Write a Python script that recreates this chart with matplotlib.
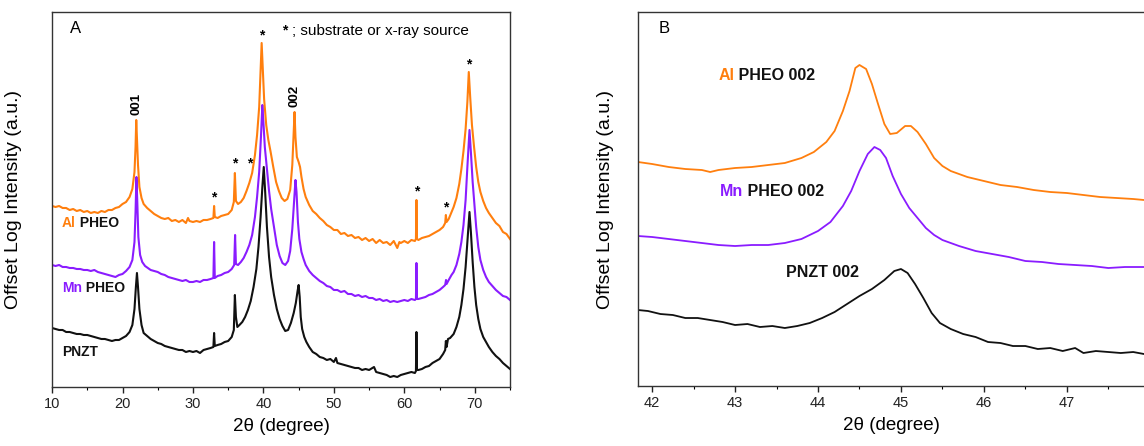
import matplotlib
matplotlib.use('Agg')
import matplotlib.pyplot as plt

plt.rcParams['font.family'] = ['Liberation Sans', 'DejaVu Sans']

# --- Panel A: full scans (2theta in degree, offset log intensity in a.u.) ---
al_x = [10, 10.5, 11, 11.5, 12, 12.5, 13, 13.5, 14, 14.5, 15, 15.5, 16, 16.5, 17, 17.5, 18, 18.5, 19, 19.5,
        20, 20.5, 21, 21.4, 21.7, 21.85, 21.95, 22.05, 22.2, 22.4, 22.7, 23, 23.5, 24, 24.5, 25, 25.5, 26,
        26.5, 27, 27.5, 28, 28.5, 29, 29.3, 29.5, 30, 30.5, 31, 31.5, 32, 32.5, 32.9, 33.0, 33.1, 33.5, 34,
        34.5, 35, 35.5, 35.8, 35.95, 36.1, 36.4, 36.8, 37.2, 37.6, 38, 38.4, 38.8, 39.1, 39.4, 39.6, 39.75,
        39.9, 40.1, 40.4, 40.7, 41, 41.4, 41.8, 42.2, 42.6, 43, 43.4, 43.8, 44.1, 44.3, 44.42, 44.55, 44.75,
        45.0, 45.2, 45.4, 45.7, 46, 46.5, 47, 47.5, 48, 48.5, 49, 49.5, 50, 50.5, 51, 51.5, 52, 52.5, 53,
        53.5, 54, 54.5, 55, 55.5, 56, 56.5, 57, 57.5, 58, 58.5, 59, 59.3, 59.5, 60, 60.5, 61, 61.5, 61.65,
        61.72, 61.8, 62, 62.5, 63, 63.5, 64, 64.5, 65, 65.5, 65.8, 65.9, 66.0, 66.3, 66.7, 67, 67.4, 67.8,
        68.1, 68.4, 68.7, 68.95, 69.15, 69.35, 69.6, 69.9, 70.2, 70.5, 70.8, 71.2, 71.6, 72, 72.5, 73, 73.5,
        74, 74.5, 75]
al_y = [181, 180, 181, 179, 179, 177, 178, 176, 177, 175, 176, 174, 175, 174, 176, 175, 177, 177, 179, 180,
        183, 185, 190, 198, 215, 240, 267, 250, 222, 200, 189, 183, 179, 176, 173, 171, 169, 168,
        169, 166, 167, 165, 167, 164, 169, 166, 165, 166, 165, 167, 167, 168, 169, 181, 170, 169, 171,
        172, 173, 177, 185, 214, 186, 183, 185, 189, 196, 204, 214, 232, 252, 280, 315, 344,
        320, 288, 262, 247, 236, 220, 205, 196, 189, 186, 188, 197, 222, 255, 275, 250, 230,
        225, 220, 210, 198, 190, 182, 176, 173, 169, 166, 162, 160, 157, 157, 153, 154, 151, 152, 149,
        150, 147, 149, 146, 148, 144, 147, 144, 145, 142, 146, 139, 145, 144, 146, 144, 147, 146, 148,
        187, 148, 147, 149, 150, 151, 153, 155, 157, 160, 164, 172, 165, 168, 175, 180, 189, 203,
        218, 236, 258, 285, 315, 290, 262, 240, 220, 205, 195, 186, 179, 174, 169, 164, 161,
        155, 153, 148]

mn_x = [10, 10.5, 11, 11.5, 12, 12.5, 13, 13.5, 14, 14.5, 15, 15.5, 16, 16.5, 17, 17.5, 18, 18.5, 19, 19.5,
        20, 20.5, 21, 21.4, 21.7, 21.85, 21.98, 22.1, 22.25, 22.5, 22.8, 23.2, 23.6, 24, 24.5, 25, 25.5, 26,
        26.5, 27, 27.5, 28, 28.5, 29, 29.5, 30, 30.5, 31, 31.5, 32, 32.5, 32.9, 33.0, 33.1, 33.5, 34, 34.5,
        35, 35.5, 35.85, 35.98, 36.1, 36.4, 36.8, 37.2, 37.6, 38, 38.4, 38.8, 39.1, 39.4, 39.65, 39.85, 40.0,
        40.2, 40.5, 40.8, 41.1, 41.5, 41.9, 42.3, 42.7, 43.1, 43.5, 43.8, 44.1, 44.35, 44.55, 44.7, 44.9,
        45.1, 45.4, 45.7, 46, 46.5, 47, 47.5, 48, 48.5, 49, 49.5, 50, 50.5, 51, 51.5, 52, 52.5, 53, 53.5,
        54, 54.5, 55, 55.5, 56, 56.5, 57, 57.5, 58, 58.5, 59, 59.5, 60, 60.5, 61, 61.5, 61.65, 61.72, 61.8,
        62, 62.5, 63, 63.5, 64, 64.5, 65, 65.5, 65.8, 65.92, 66.0, 66.3, 66.7, 67, 67.4, 67.8, 68.1, 68.4,
        68.7, 68.95, 69.25, 69.45, 69.7, 69.95, 70.2, 70.5, 70.8, 71.2, 71.6, 72, 72.5, 73, 73.5, 74, 74.5, 75]
mn_y = [122, 121, 122, 120, 120, 119, 119, 118, 118, 117, 117, 116, 117, 115, 114, 113, 112, 111, 110, 112,
        113, 116, 120, 127, 145, 175, 210, 185, 150, 132, 125, 121, 119, 117, 116, 115, 113, 112,
        110, 109, 108, 107, 106, 107, 105, 105, 106, 105, 107, 107, 108, 109, 145, 109, 111, 112, 114,
        115, 118, 122, 152, 123, 122, 125, 129, 135, 142, 152, 170, 190, 215, 250, 282, 265,
        240, 218, 196, 178, 160, 142, 131, 124, 122, 126, 136, 158, 185, 207, 195, 165,
        148, 135, 128, 122, 116, 112, 109, 106, 104, 101, 100, 97, 97, 95, 96, 93, 93, 91, 92,
        90, 91, 89, 89, 87, 88, 86, 87, 85, 86, 85, 86, 87, 86, 88, 87, 88, 124, 88,
        88, 89, 90, 92, 93, 95, 97, 100, 102, 107, 103, 107, 112, 115, 122, 133, 145, 162,
        187, 220, 257, 235, 205, 182, 160, 140, 127, 117, 110, 105, 101, 97, 94, 91, 90, 87]

pnzt_x = [10, 10.5, 11, 11.5, 12, 12.5, 13, 13.5, 14, 14.5, 15, 15.5, 16, 16.5, 17, 17.5, 18, 18.5, 19, 19.5,
          20, 20.5, 21, 21.4, 21.7, 21.9, 22.05, 22.2, 22.4, 22.7, 23, 23.5, 24, 24.5, 25, 25.5, 26, 26.5,
          27, 27.5, 28, 28.5, 29, 29.5, 30, 30.5, 31, 31.5, 32, 32.5, 32.9, 33.0, 33.1, 33.5, 34, 34.5, 35,
          35.5, 35.8, 35.95, 36.1, 36.3, 36.6, 37, 37.4, 37.8, 38.2, 38.6, 39, 39.3, 39.6, 39.85, 40.05,
          40.25, 40.5, 40.8, 41.1, 41.5, 41.9, 42.3, 42.7, 43.1, 43.5, 43.9, 44.3, 44.6, 44.85, 45.0, 45.15,
          45.3, 45.5, 45.8, 46.1, 46.5, 47, 47.5, 48, 48.5, 49, 49.5, 50, 50.3, 50.5, 51, 51.5, 52, 52.5, 53,
          53.5, 54, 54.5, 55, 55.7, 56, 56.5, 57, 57.5, 58, 58.5, 59, 59.5, 60, 60.5, 61, 61.5, 61.65, 61.72,
          61.8, 62, 62.5, 63, 63.5, 64, 64.5, 65, 65.5, 65.8, 65.9, 66.0, 66.2, 66.5, 67, 67.4, 67.8, 68.1,
          68.4, 68.7, 68.95, 69.25, 69.45, 69.7, 69.95, 70.2, 70.5, 70.8, 71.2, 71.6, 72, 72.5, 73, 73.5,
          74, 74.5, 75]
pnzt_y = [59, 58, 57, 57, 55, 55, 54, 53, 53, 52, 52, 51, 50, 49, 48, 48, 47, 46, 47, 47,
          49, 51, 55, 62, 78, 100, 114, 100, 78, 62, 54, 51, 48, 46, 44, 43, 41, 40,
          39, 38, 37, 37, 35, 36, 35, 36, 34, 37, 38, 39, 40, 54, 41, 42, 43, 45, 46,
          50, 57, 92, 70, 60, 62, 65, 70, 77, 86, 100, 118, 140, 170, 200, 220,
          195, 160, 130, 110, 92, 78, 68, 61, 56, 57, 64, 74, 84, 96, 102, 90,
          70, 58, 50, 45, 40, 35, 33, 30, 29, 27, 28, 25, 29, 24, 23, 22, 21, 20, 19,
          19, 17, 18, 17, 20, 15, 14, 13, 12, 10, 11, 10, 12, 13, 14, 15, 14, 16, 55,
          17, 17, 18, 20, 21, 24, 26, 28, 33, 37, 46, 40, 48, 49, 53, 60, 70, 82,
          98, 120, 145, 175, 155, 125, 100, 82, 68, 58, 50, 45, 40, 35, 31, 28,
          24, 21, 18]

# --- Panel B: 002 region ---
al_b_x = [41.83, 42.0, 42.2, 42.4, 42.6, 42.7, 42.8, 43.0, 43.2, 43.4, 43.6, 43.8, 43.95, 44.1, 44.2, 44.3,
          44.38, 44.45, 44.5, 44.58, 44.65, 44.72, 44.8, 44.87, 44.95, 45.05, 45.12, 45.2, 45.3, 45.4, 45.5,
          45.6, 45.8, 46.0, 46.2, 46.4, 46.6, 46.8, 47.0, 47.2, 47.4, 47.6, 47.8, 47.93]
al_b_y = [224, 222, 219, 217, 216, 214, 216, 218, 219, 221, 223, 228, 234, 244, 255, 275,
          295, 318, 321, 317, 302, 283, 262, 252, 253, 260, 260, 254, 242, 228, 220,
          215, 209, 205, 201, 199, 196, 194, 193, 191, 189, 188, 187, 186]

mn_b_x = [41.83, 42.0, 42.2, 42.4, 42.6, 42.8, 43.0, 43.2, 43.4, 43.6, 43.8, 44.0, 44.15, 44.3, 44.4, 44.5,
          44.6, 44.68, 44.75, 44.82, 44.9, 45.0, 45.1, 45.2, 45.3, 45.4, 45.5, 45.7, 45.9, 46.1, 46.3, 46.5,
          46.7, 46.9, 47.1, 47.3, 47.5, 47.7, 47.93]
mn_b_y = [150, 149, 147, 145, 143, 141, 140, 141, 141, 143, 147, 155, 164, 180, 195, 215,
          232, 239, 236, 228, 210, 192, 178, 168, 158, 151, 146, 140, 135, 132, 129, 125,
          124, 122, 121, 120, 118, 119, 119]

pnzt_b_x = [41.83, 41.95, 42.1, 42.25, 42.4, 42.55, 42.7, 42.85, 43.0, 43.15, 43.3, 43.45, 43.6, 43.75, 43.9,
            44.05, 44.2, 44.35, 44.5, 44.65, 44.8, 44.92, 45.0, 45.08, 45.17, 45.27, 45.37, 45.47, 45.6,
            45.75, 45.9, 46.05, 46.2, 46.35, 46.5, 46.65, 46.8, 46.95, 47.1, 47.2, 47.35, 47.5, 47.65, 47.8,
            47.93]
pnzt_b_y = [76, 75, 72, 71, 68, 68, 66, 64, 61, 62, 59, 60, 58, 60, 63,
            68, 74, 82, 90, 97, 106, 115, 117, 113, 102, 88, 73, 63, 57,
            52, 49, 44, 43, 40, 40, 37, 38, 35, 38, 33, 35, 34, 33, 34,
            32]

# asterisk marks (2theta, height) in panel A
star_x = [33.0, 35.95, 38.1, 39.75, 61.72, 65.9, 69.15]
star_y = [190, 224, 224, 352, 196, 180, 323]

orange = '#FF7F0E'
purple = '#8A1CFF'
black = '#111111'

fig = plt.figure(figsize=(11.44, 4.46), dpi=100)
ax_a = fig.add_axes([0.0455, 0.1323, 0.4003, 0.8408])
ax_b = fig.add_axes([0.5577, 0.1345, 0.4423, 0.8386])

lw = 1.5
ax_a.plot(pnzt_x, pnzt_y, color=black, lw=lw)
ax_a.plot(mn_x, mn_y, color=purple, lw=lw)
ax_a.plot(al_x, al_y, color=orange, lw=lw)
ax_a.set_xlim(10, 75)
ax_a.set_ylim(0, 375)

ax_b.plot(pnzt_b_x, pnzt_b_y, color=black, lw=1.3)
ax_b.plot(mn_b_x, mn_b_y, color=purple, lw=1.3)
ax_b.plot(al_b_x, al_b_y, color=orange, lw=1.3)
ax_b.set_xlim(41.83, 47.93)
ax_b.set_ylim(0, 374)
ax_b.spines['right'].set_visible(False)

for ax in (ax_a, ax_b):
    ax.set_yticks([])
    ax.tick_params(axis='x', direction='out', length=4, width=1, labelsize=10.5, pad=3, colors='#222222')
    ax.tick_params(axis='x', which='minor', direction='out', length=2, width=0.8)
    for s in ax.spines.values():
        s.set_color('#333333')
        s.set_linewidth(1.0)
    ax.set_xlabel('2θ (degree)', fontsize=13.5, labelpad=5)
    ax.set_ylabel('Offset Log Intensity (a.u.)', fontsize=14, labelpad=8)

ax_a.set_xticks(range(10, 80, 10))
ax_a.set_xticks(range(15, 80, 10), minor=True)
ax_b.set_xticks(range(42, 48))
ax_b.set_xticks([42.5, 43.5, 44.5, 45.5, 46.5, 47.5], minor=True)
ax_a.yaxis.set_label_coords(-0.066, 0.5)
ax_b.yaxis.set_label_coords(-0.048, 0.5)

# panel letters
ax_a.text(0.04, 0.955, 'A', transform=ax_a.transAxes, fontsize=12, va='center')
ax_b.text(0.04, 0.955, 'B', transform=ax_b.transAxes, fontsize=12, va='center')

# asterisk legend
ax_a.text(0.503, 0.95, '*', transform=ax_a.transAxes, fontsize=10, fontweight='bold', va='center')
ax_a.text(0.523, 0.95, '; substrate or x-ray source', transform=ax_a.transAxes, fontsize=11, va='center')

for sx, sy in zip(star_x, star_y):
    ax_a.text(sx, sy, '*', fontsize=10, fontweight='bold', ha='center', va='center')

ax_a.text(22.0, 272, '001', rotation=90, fontsize=9.5, fontweight='bold', ha='center', va='bottom')
ax_a.text(44.4, 280, '002', rotation=90, fontsize=9.5, fontweight='bold', ha='center', va='bottom')


def two_tone(ax, x, y, first, color, rest, size):
    t = ax.text(x, y, first, color=color, fontsize=size, fontweight='bold', va='center')
    ax.annotate(rest, xy=(1, 0.5), xycoords=t, va='center', fontsize=size, fontweight='bold',
                color=black)


two_tone(ax_a, 11.4, 164, 'Al', orange, ' PHEO', 10)
two_tone(ax_a, 11.4, 99, 'Mn', purple, ' PHEO', 10)
ax_a.text(11.4, 35, 'PNZT', fontsize=10, fontweight='bold', va='center', color=black)

two_tone(ax_b, 42.8, 311, 'Al', orange, ' PHEO 002', 11.5)
two_tone(ax_b, 42.82, 195, 'Mn', purple, ' PHEO 002', 11.5)
ax_b.text(43.62, 114, 'PNZT 002', fontsize=11.5, fontweight='bold', va='center', color=black)

fig.savefig('out.png', dpi=100)
